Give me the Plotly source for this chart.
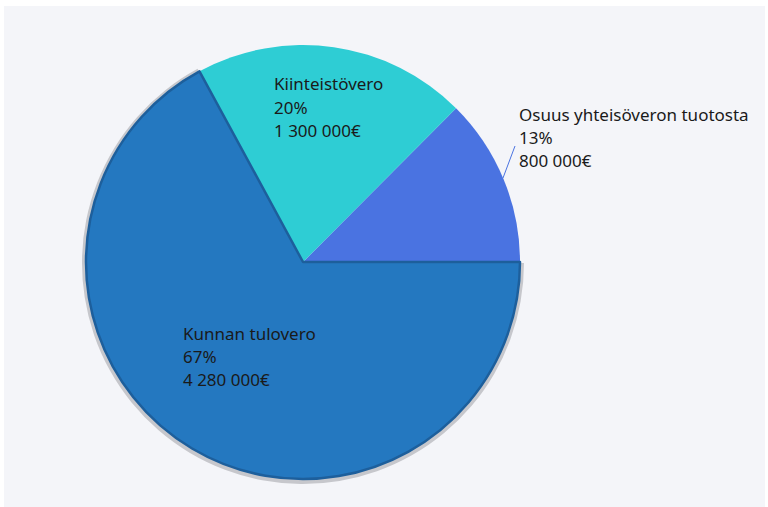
import plotly.graph_objects as go

labels = ["Osuus yhteisöveron tuotosta", "Kiinteistövero", "Kunnan tulovero"]
values = [800000, 1300000, 4280000]
colors = ["#4a73e1", "#2ecdd4", "#2478c0"]

W, H = 768, 507
total = sum(values)

def fmt(v):
    return f"{v:,}".replace(",", " ") + "€"

def px(x):
    return x / W

def py(y):
    return 1 - y / H

# first slice starts at 3 o'clock and goes counterclockwise
rot = 90 - 360 * values[0] / total

# label anchor (left x, first line center y) per slice, in pixels
label_pos = [(517, 114), (272, 84), (181, 333)]
line_gap = 23.3

fig = go.Figure()

# shadow pie behind the selected (largest) slice
fig.add_trace(go.Pie(
    labels=labels, values=values, sort=False, direction="counterclockwise",
    rotation=rot,
    marker=dict(colors=["rgba(0,0,0,0)", "rgba(0,0,0,0)", "#c6c7cc"],
                line=dict(width=0)),
    textinfo="none", hoverinfo="skip", showlegend=False,
    domain=dict(x=[px(303 - 221), px(303 + 221)], y=[py(263 + 221), py(263 - 221)]),
))

fig.add_trace(go.Pie(
    labels=labels, values=values, sort=False, direction="counterclockwise",
    rotation=rot,
    marker=dict(colors=colors,
                line=dict(color=["rgba(0,0,0,0)", "rgba(0,0,0,0)", "#1d5f9c"],
                          width=[0, 0, 2.5])),
    textinfo="none", hoverinfo="skip", showlegend=False,
    domain=dict(x=[px(303 - 217), px(303 + 217)], y=[py(262 + 217), py(262 - 217)]),
))

annotations = []
for lab, val, (lx, ly) in zip(labels, values, label_pos):
    lines = [lab, f"{round(100 * val / total)}%", fmt(val)]
    for i, t in enumerate(lines):
        annotations.append(dict(
            x=px(lx), y=py(ly + i * line_gap), xref="paper", yref="paper",
            text=t, showarrow=False, xanchor="left", yanchor="middle",
            font=dict(family="Noto Sans", size=17, color="#1a1a1a"),
        ))

shapes = [
    dict(type="rect", xref="paper", yref="paper", x0=px(4), x1=px(765), y0=0, y1=py(6),
         fillcolor="#f4f5f9", line=dict(width=0), layer="below"),
    dict(type="line", xref="paper", yref="paper", x0=px(515), y0=py(146),
         x1=px(503), y1=py(178), line=dict(color="#4a73e1", width=1)),
]

fig.update_layout(
    width=W, height=H, margin=dict(l=0, r=0, t=0, b=0),
    paper_bgcolor="white", plot_bgcolor="white",
    annotations=annotations, shapes=shapes, showlegend=False,
)

fig.write_html(
    "out.html",
    config={"displayModeBar": False},
    post_script="document.body.style.margin='0';document.body.style.overflow='hidden';",
)
